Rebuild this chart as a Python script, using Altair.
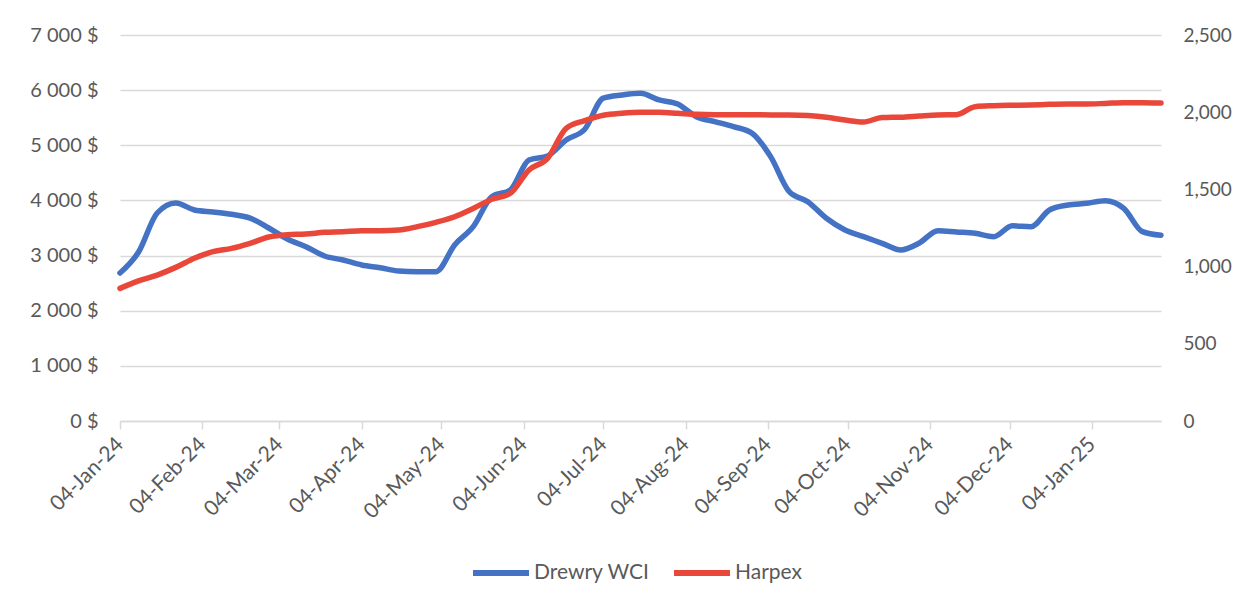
import altair as alt
import pandas as pd

# Weekly observations (Thursdays), 04-Jan-2024 to 30-Jan-2025
dates = pd.date_range("2024-01-04", periods=57, freq="7D").strftime("%Y-%m-%dT00:00:00").tolist()

wci = [2684, 3065, 3772, 3954, 3827, 3790, 3748, 3680, 3500, 3300, 3161, 2992, 2920, 2829,
       2780, 2720, 2708, 2708, 3192, 3524, 4068, 4190, 4733, 4806, 5096, 5290, 5855, 5912,
       5943, 5822, 5749, 5519, 5429, 5338, 5217, 4794, 4159, 3977, 3676, 3464, 3343, 3222,
       3101, 3228, 3452, 3428, 3403, 3343, 3540, 3524, 3827, 3917, 3948, 3996, 3857, 3434, 3367]

harpex = [859, 907, 945, 995, 1054, 1097, 1118, 1151, 1192, 1207, 1211, 1222, 1226, 1233,
          1233, 1237, 1259, 1287, 1323, 1377, 1436, 1475, 1626, 1701, 1896, 1945, 1980, 1993,
          1999, 1999, 1993, 1986, 1984, 1984, 1984, 1982, 1982, 1978, 1967, 1949, 1936, 1966,
          1967, 1975, 1982, 1984, 2036, 2042, 2045, 2047, 2051, 2053, 2053, 2057, 2062, 2062, 2060]

series_names = ["Drewry WCI", "Harpex"]
series_colors = ["#4472C4", "#E8473A"]

left_ticks = [0, 1000, 2000, 3000, 4000, 5000, 6000, 7000]
right_ticks = [0, 500, 1000, 1500, 2000, 2500]
x_tick_months = [(2024, m) for m in range(1, 13)] + [(2025, 1)]

df = pd.DataFrame({
    "date": dates * 2,
    "series": [series_names[0]] * len(wci) + [series_names[1]] * len(harpex),
    "value": wci + harpex,
})

FONT = "Lato"
GREY = "#595959"
GRID = "#D9D9D9"

x_enc = alt.X(
    "date:T",
    title=None,
    scale=alt.Scale(domain=[alt.DateTime(year=2024, month=1, date=4),
                            alt.DateTime(year=2025, month=1, date=30)]),
    axis=alt.Axis(
        values=[alt.DateTime(year=y, month=m, date=4) for y, m in x_tick_months],
        format="%d-%b-%y",
        labelAngle=-45,
        labelAlign="right",
        labelBaseline="middle",
        labelPadding=12,
        labelFontSize=21,
        labelColor=GREY,
        labelFont=FONT,
        tickColor=GRID,
        tickSize=8,
        tickWidth=1.5,
        domainColor=GRID,
        domainWidth=1.5,
        grid=False,
        labelOverlap=False,
    ),
)

color_enc = alt.Color(
    "series:N",
    scale=alt.Scale(domain=series_names, range=series_colors),
    legend=alt.Legend(
        title=None,
        orient="none",
        direction="horizontal",
        legendX=350,
        legendY=507,
        symbolType="stroke",
        symbolSize=3136,
        symbolStrokeWidth=6,
        labelFontSize=21,
        labelFont=FONT,
        labelColor=GREY,
        labelOffset=2,
        columnPadding=12,
        padding=0,
    ),
)

base = alt.Chart(df).encode(x=x_enc, color=color_enc)

left = base.transform_filter(alt.datum.series == series_names[0]).mark_line(
    strokeWidth=5.5, interpolate="monotone", strokeCap="round"
).encode(
    y=alt.Y(
        "value:Q",
        title=None,
        scale=alt.Scale(domain=[0, 7000]),
        axis=alt.Axis(
            values=left_ticks,
            labelExpr="replace(format(datum.value, ',d'), ',', ' ') + ' $'",
            labelFontSize=20,
            labelFont=FONT,
            labelColor=GREY,
            labelPadding=22,
            ticks=False,
            tickSize=0,
            domain=False,
            grid=True,
            gridColor=GRID,
            gridWidth=1.5,
        ),
    )
)

right = base.transform_filter(alt.datum.series == series_names[1]).mark_line(
    strokeWidth=5.5, interpolate="monotone", strokeCap="round"
).encode(
    y=alt.Y(
        "value:Q",
        title=None,
        scale=alt.Scale(domain=[0, 2500]),
        axis=alt.Axis(
            orient="right",
            values=right_ticks,
            format=",d",
            labelFontSize=19,
            labelFont=FONT,
            labelColor=GREY,
            labelPadding=22,
            ticks=False,
            tickSize=0,
            domain=False,
            grid=False,
        ),
    )
)

chart = alt.layer(left, right).resolve_scale(y="independent").properties(
    width=1041,
    height=386,
    padding={"left": 112, "top": 27, "right": 82, "bottom": 180},
    autosize=alt.AutoSizeParams(type="none"),
    background="white",
).configure_view(stroke=None)

chart.save("out.html", embed_options={"renderer": "svg", "actions": False})
